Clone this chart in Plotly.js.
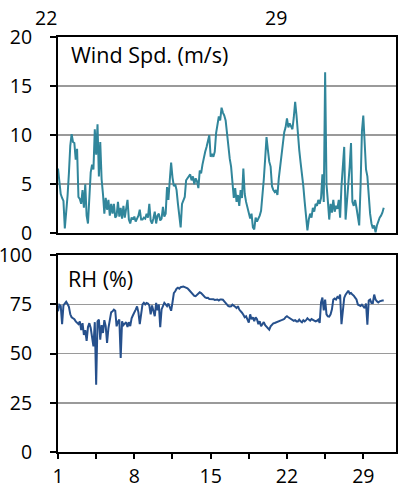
<!DOCTYPE html>
<html>
<head>
<meta charset="utf-8">
<script src="https://cdn.plot.ly/plotly-3.0.1.min.js"></script>
<style>html,body{margin:0;padding:0;background:#fff;}#chart{width:401px;height:487px;}</style>
</head>
<body>
<div id="chart"></div>
<script>
// Sampling: first day of month = 1, one sample every 3 hours (1/8 day)
const startDay = 1;
const stepDays = 0.125;

// Wind speed (m/s), 8 samples per day, days 1..30
const windSpeed = [
  6.6, 5.0, 4.0, 3.6, 3.3, 0.5, 1.8, 3.8,
  6.1, 8.9, 10.1, 9.3, 9.2, 7.5, 8.6, 3.7,
  3.5, 3.0, 4.4, 2.6, 5.0, 1.8, 1.0, 4.4,
  6.2, 7.0, 6.5, 10.6, 8.0, 11.1, 5.8, 9.3,
  5.5, 4.0, 2.0, 3.6, 2.4, 3.4, 1.8, 3.0,
  2.0, 3.0, 1.6, 1.8, 3.2, 1.7, 2.6, 1.5,
  2.8, 1.6, 2.4, 3.4, 1.4, 1.0, 1.6, 1.4,
  1.7, 1.2, 1.5, 1.8, 2.4, 1.4, 1.4, 1.6,
  1.5, 2.0, 1.6, 3.0, 1.3, 1.0, 1.5, 2.2,
  1.0, 1.8, 2.0, 1.3, 1.5, 2.7, 1.7, 2.0,
  4.7, 3.4, 5.4, 7.2, 5.7, 4.8, 5.0, 4.4,
  3.0, 2.0, 0.6, 3.0, 3.4, 3.7, 5.4, 5.6,
  5.8, 6.0, 5.4, 5.8, 5.0, 5.6, 5.3, 4.6,
  6.4, 6.1, 7.0, 7.9, 8.3, 8.8, 9.5, 10.0,
  7.8, 8.1, 7.8, 8.3, 10.2, 11.3, 11.9, 11.5,
  12.8, 12.3, 12.0, 11.5, 10.0, 8.8, 7.6, 6.8,
  5.0, 3.6, 4.6, 3.2, 3.9, 2.8, 4.4, 3.6,
  6.6, 4.0, 3.2, 2.6, 2.2, 1.5, 2.0, 0.6,
  0.4, 1.6, 1.2, 1.5, 1.8, 2.3, 3.6, 5.5,
  7.6, 9.8, 8.5, 7.3, 6.8, 4.8, 4.4, 4.2,
  4.4, 3.9, 5.6, 6.8, 7.6, 9.2, 10.3, 10.8,
  11.7, 10.8, 11.2, 10.9, 10.6, 11.8, 13.4, 12.0,
  10.0, 8.5, 7.2, 6.1, 4.8, 3.2, 1.8, 0.3,
  1.4, 2.0, 1.6, 2.6, 2.2, 3.0, 2.8, 3.4,
  3.0, 3.6, 6.0, 3.2, 16.4, 5.0, 3.3, 1.4,
  3.0, 2.1, 3.4, 2.2, 2.8, 2.5, 3.4, 1.6,
  4.8, 6.8, 8.8, 1.4, 3.0, 4.6, 6.8, 9.2,
  3.2, 2.8, 3.4, 2.6, 1.6, 0.8, 4.8, 10.4,
  12.0, 8.6, 6.5, 5.8, 3.4, 2.0, 1.0, 0.5,
  0.8, 0.1, 0.8, 1.3, 1.6, 1.8, 2.1, 2.6
];

// Relative humidity (%), 8 samples per day, days 1..30
const relHumidity = [
  71.5, 74.8, 74.2, 65.0, 74.5, 75.8, 76.4, 75.2,
  73.8, 70.0, 68.5, 68.0, 67.5, 66.4, 65.6, 65.0,
  66.4, 62.0, 65.5, 59.5, 62.0, 56.5, 63.5, 65.5,
  63.0, 57.0, 53.7, 66.0, 34.2, 66.4, 67.3, 57.1,
  64.5, 60.5, 67.0, 64.0, 55.5, 63.0, 68.5, 71.0,
  71.5, 72.4, 71.8, 63.9, 66.2, 67.3, 47.8, 66.4,
  64.5, 65.5, 66.0, 63.5, 66.0, 64.0, 68.0, 69.5,
  70.7, 72.4, 74.0, 71.0, 65.0, 71.0, 75.0, 75.8,
  75.0, 75.8, 75.5, 74.5, 70.0, 74.5, 71.5, 69.0,
  75.8, 72.0, 75.0, 63.5, 72.5, 74.5, 75.8, 75.0,
  74.1, 75.5, 73.0, 71.8, 76.0, 80.8, 81.7, 83.0,
  83.5, 83.0, 83.8, 84.0, 84.1, 83.8, 83.6, 83.2,
  82.5, 81.7, 80.9, 80.0, 79.4, 79.2, 79.8, 80.6,
  81.2, 80.8, 80.0, 79.4, 78.6, 78.3, 78.4, 77.8,
  77.8, 77.5, 77.7, 77.3, 77.6, 77.5, 77.0, 77.5,
  77.5, 77.4, 76.6, 75.8, 75.0, 74.2, 74.0, 74.1,
  74.9, 74.5, 73.8, 73.2, 74.1, 72.4, 71.8, 70.8,
  69.8, 68.5, 69.0, 67.3, 65.8, 70.0, 67.5, 68.5,
  66.5, 68.5, 67.5, 65.0, 66.5, 63.9, 65.0, 66.0,
  64.5, 63.9, 63.2, 62.2, 63.9, 64.7, 65.4, 65.6,
  65.8, 66.3, 66.4, 66.7, 67.0, 67.3, 67.6, 68.5,
  69.0, 68.5, 68.0, 67.6, 67.3, 66.7, 67.0, 66.4,
  66.4, 67.3, 66.4, 65.9, 67.0, 66.4, 67.0, 68.0,
  67.3, 66.8, 67.6, 67.3, 66.6, 66.4, 66.7, 67.3,
  65.6, 76.0, 78.5, 72.0, 77.5, 70.0, 69.0, 68.8,
  70.0, 72.5, 77.5, 78.0, 77.5, 78.8, 78.3, 80.0,
  65.0, 73.5, 78.3, 80.0, 80.8, 82.0, 80.5, 80.8,
  80.0, 79.5, 78.5, 77.5, 75.0, 74.5, 74.2, 74.9,
  74.3, 73.2, 75.5, 64.7, 77.0, 77.5, 75.8, 75.8,
  80.0, 77.5, 76.6, 76.0, 76.6, 77.0, 77.0, 77.0
];

// Axis ticks and labels
const dayTicks = [1, 8, 15, 22, 29];
const dayMinorTicks = [4.5, 11.5, 18.5, 25.5];
const rhTicks = [0, 25, 50, 75, 100];
const windTicks = [0, 5, 10, 15, 20];
const windLabel = 'Wind Spd. (m/s)';
const rhLabel = 'RH (%)';
const topStripLabels = ['22', '29'];

const days = windSpeed.map((_, i) => startDay + i * stepDays);
const daysRH = relHumidity.map((_, i) => startDay + i * stepDays);

const FONT = 'Open Sans, sans-serif';
const TICK_SIZE = 19.5;

const traces = [
  {x: days, y: windSpeed, xaxis: 'x2', yaxis: 'y2', type: 'scatter', mode: 'lines',
   line: {color: '#31869B', width: 2}, hoverinfo: 'skip'},
  {x: daysRH, y: relHumidity, xaxis: 'x', yaxis: 'y', type: 'scatter', mode: 'lines',
   line: {color: '#26508C', width: 2}, hoverinfo: 'skip'}
];

const axisCommon = {
  showline: true, linecolor: '#000', linewidth: 2, mirror: true,
  zeroline: false, fixedrange: true
};

const layout = {
  width: 401, height: 487,
  margin: {l: 58, r: 5, t: 37, b: 35},
  paper_bgcolor: '#fff', plot_bgcolor: '#fff',
  showlegend: false,
  font: {family: FONT, size: TICK_SIZE, color: '#000'},
  xaxis: Object.assign({}, axisCommon, {
    anchor: 'y', range: [1, 32], tickvals: dayTicks, ticktext: dayTicks.map(String),
    ticks: 'outside', ticklen: 5, tickwidth: 2, tickcolor: '#000', showgrid: false,
    minor: {tickvals: dayMinorTicks, ticks: 'outside', ticklen: 5, tickwidth: 2, tickcolor: '#000', showgrid: false},
    tickfont: {family: FONT, size: TICK_SIZE, color: '#000'}, ticklabelstandoff: 1
  }),
  yaxis: Object.assign({}, axisCommon, {
    domain: [0, 0.474], range: [0, 100], tickvals: rhTicks,
    ticks: 'outside', ticklen: 6, tickwidth: 2, tickcolor: '#000',
    showgrid: true, gridcolor: '#9a9a9a', gridwidth: 1.5,
    tickfont: {family: FONT, size: TICK_SIZE, color: '#000'}, ticklabelstandoff: 14
  }),
  xaxis2: Object.assign({}, axisCommon, {
    anchor: 'y2', range: [1, 32], showticklabels: false, ticks: '', showgrid: false
  }),
  yaxis2: Object.assign({}, axisCommon, {
    domain: [0.527, 1], range: [0, 20], tickvals: windTicks,
    ticks: 'outside', ticklen: 6, tickwidth: 2, tickcolor: '#000',
    showgrid: true, gridcolor: '#9a9a9a', gridwidth: 1.5,
    tickfont: {family: FONT, size: TICK_SIZE, color: '#000'}, ticklabelstandoff: 14
  }),
  annotations: [
    {text: windLabel, xref: 'paper', yref: 'paper', x: 0.033, y: 0.957,
     xanchor: 'left', yanchor: 'middle', showarrow: false,
     font: {family: FONT, size: 21.5, color: '#000'}},
    {text: rhLabel, xref: 'paper', yref: 'paper', x: 0.024, y: 0.419,
     xanchor: 'left', yanchor: 'middle', showarrow: false,
     font: {family: FONT, size: 21.5, color: '#000'}},
    {text: topStripLabels[0], xref: 'paper', yref: 'paper', x: -0.0355, y: 1.048,
     xanchor: 'center', yanchor: 'middle', showarrow: false,
     font: {family: FONT, size: TICK_SIZE, color: '#000'}},
    {text: topStripLabels[1], xref: 'paper', yref: 'paper', x: 0.645, y: 1.048,
     xanchor: 'center', yanchor: 'middle', showarrow: false,
     font: {family: FONT, size: TICK_SIZE, color: '#000'}}
  ]
};

Plotly.newPlot('chart', traces, layout, {displayModeBar: false, staticPlot: true});
</script>
</body>
</html>
